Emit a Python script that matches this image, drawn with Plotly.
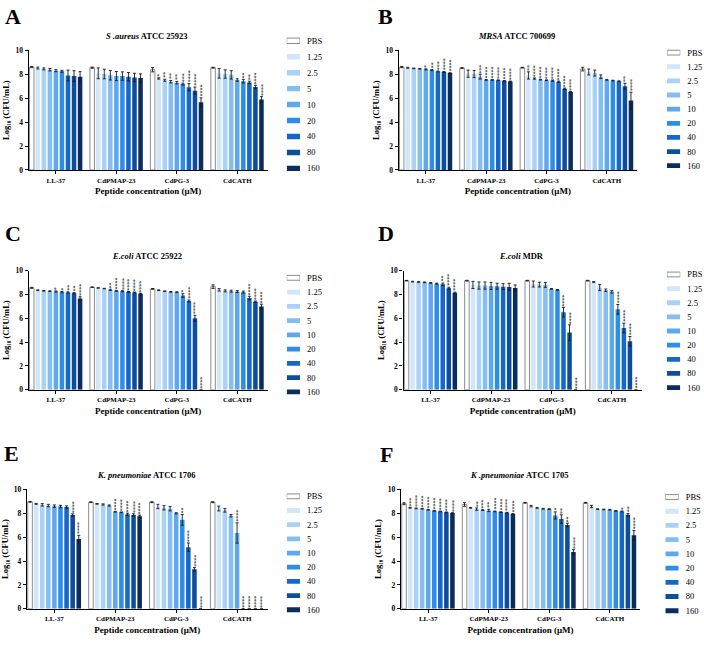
import plotly.graph_objects as go

W, H = 704, 645
SERIF = "Liberation Serif"

peptides = ["LL-37", "CdPMAP-23", "CdPG-3", "CdCATH"]
concentrations = ["PBS", "1.25", "2.5", "5", "10", "20", "40", "80", "160"]
bar_colors = ["#ffffff", "#cfe6fb", "#aad2f6", "#86bef2", "#5fa8ee",
              "#2f8dea", "#1568c9", "#0d4d9e", "#0a2d5c"]

# rows = peptide (LL-37, CdPMAP-23, CdPG-3, CdCATH); columns = concentration
A_mean = [[8.60, 8.52, 8.45, 8.38, 8.30, 8.25, 7.90, 7.85, 7.80],
          [8.55, 8.08, 8.02, 7.92, 7.85, 7.85, 7.80, 7.73, 7.68],
          [8.38, 7.65, 7.50, 7.38, 7.30, 7.18, 6.92, 6.63, 5.65],
          [8.55, 8.08, 8.02, 7.95, 7.52, 7.42, 7.32, 6.93, 5.88]]
A_err = [[0.05, 0.08, 0.08, 0.10, 0.08, 0.08, 0.45, 0.45, 0.42],
         [0.05, 0.45, 0.40, 0.40, 0.38, 0.35, 0.35, 0.35, 0.35],
         [0.18, 0.05, 0.08, 0.10, 0.10, 0.08, 0.30, 0.30, 0.38],
         [0.04, 0.40, 0.35, 0.35, 0.10, 0.15, 0.10, 0.15, 0.25]]
A_stars = [["", "", "", "", "", "", "", "", ""],
           ["", "", "", "", "", "", "", "", ""],
           ["", "*", "**", "**", "**", "***", "****", "****", "****"],
           ["", "", "", "", "", "**", "**", "****", "****"]]

B_mean = [[8.60, 8.54, 8.49, 8.46, 8.41, 8.35, 8.24, 8.19, 8.10],
          [8.52, 8.05, 8.02, 7.80, 7.53, 7.53, 7.50, 7.45, 7.40],
          [8.55, 7.90, 7.64, 7.55, 7.50, 7.47, 7.38, 6.79, 6.51],
          [8.43, 8.19, 8.10, 7.80, 7.53, 7.47, 7.42, 7.00, 5.80]]
B_err = [[0.05, 0.04, 0.03, 0.03, 0.04, 0.04, 0.03, 0.04, 0.03],
         [0.03, 0.30, 0.30, 0.20, 0.03, 0.03, 0.03, 0.03, 0.03],
         [0.03, 0.30, 0.05, 0.03, 0.03, 0.05, 0.05, 0.05, 0.05],
         [0.15, 0.25, 0.25, 0.15, 0.03, 0.03, 0.03, 0.25, 0.70]]
B_stars = [["", "", "", "", "*", "**", "***", "****", "****"],
           ["", "", "", "***", "****", "****", "****", "****", "****"],
           ["", "**", "****", "****", "****", "****", "****", "****", "****"],
           ["", "", "", "", "", "", "", "**", "****"]]

C_mean = [[8.55, 8.35, 8.30, 8.27, 8.24, 8.19, 8.16, 8.10, 7.65],
          [8.60, 8.54, 8.49, 8.38, 8.30, 8.27, 8.21, 8.16, 8.05],
          [8.46, 8.35, 8.27, 8.21, 8.19, 7.91, 7.45, 6.00, 0.0],
          [8.65, 8.38, 8.30, 8.27, 8.24, 8.19, 7.69, 7.39, 6.98]]
C_err = [[0.04, 0.03, 0.03, 0.03, 0.05, 0.05, 0.05, 0.05, 0.15],
         [0.02, 0.02, 0.02, 0.05, 0.04, 0.04, 0.04, 0.04, 0.04],
         [0.03, 0.03, 0.02, 0.03, 0.03, 0.15, 0.08, 0.25, 0.0],
         [0.15, 0.10, 0.08, 0.08, 0.08, 0.08, 0.15, 0.05, 0.20]]
C_stars = [["", "", "", "", "*", "*", "**", "**", "****"],
           ["", "", "", "**", "****", "****", "****", "****", "****"],
           ["", "", "", "", "", "*", "****", "****", "****"],
           ["", "", "", "", "", "", "****", "****", "****"]]

D_mean = [[9.15, 9.07, 9.04, 9.01, 8.96, 8.90, 8.85, 8.52, 8.13],
          [9.15, 8.79, 8.74, 8.74, 8.71, 8.68, 8.65, 8.63, 8.54],
          [9.15, 8.87, 8.82, 8.79, 8.46, 8.38, 6.51, 4.80, 0.0],
          [9.15, 9.04, 8.57, 8.35, 8.22, 6.75, 5.19, 4.07, 0.0]]
D_err = [[0.02, 0.03, 0.03, 0.03, 0.03, 0.04, 0.10, 0.08, 0.06],
         [0.03, 0.30, 0.30, 0.30, 0.30, 0.25, 0.25, 0.30, 0.25],
         [0.03, 0.25, 0.20, 0.20, 0.03, 0.03, 0.40, 0.65, 0.0],
         [0.03, 0.03, 0.25, 0.10, 0.10, 0.40, 0.40, 0.40, 0.0]]
D_stars = [["", "", "", "", "", "", "**", "****", "****"],
           ["", "", "", "", "", "", "", "", ""],
           ["", "", "", "", "", "", "****", "****", "****"],
           ["", "", "", "", "", "****", "****", "****", "****"]]

E_mean = [[8.96, 8.79, 8.71, 8.65, 8.60, 8.57, 8.52, 7.85, 5.85],
          [8.93, 8.79, 8.74, 8.65, 8.13, 8.08, 7.91, 7.86, 7.75],
          [8.93, 8.57, 8.46, 8.38, 8.00, 7.45, 5.16, 3.30, 0.0],
          [8.93, 8.40, 8.25, 7.80, 6.35, 0.0, 0.0, 0.0, 0.0]]
E_err = [[0.03, 0.04, 0.10, 0.10, 0.10, 0.10, 0.10, 0.10, 0.30],
         [0.03, 0.03, 0.05, 0.05, 0.03, 0.03, 0.10, 0.10, 0.10],
         [0.04, 0.18, 0.18, 0.18, 0.05, 0.45, 0.35, 0.15, 0.0],
         [0.04, 0.20, 0.15, 0.10, 0.85, 0.0, 0.0, 0.0, 0.0]]
E_stars = [["", "", "", "", "", "", "", "****", "****"],
           ["", "", "", "", "****", "****", "****", "****", "****"],
           ["", "", "", "", "", "**", "****", "****", "****"],
           ["", "", "", "", "****", "****", "****", "****", "****"]]

F_mean = [[8.80, 8.46, 8.41, 8.38, 8.30, 8.21, 8.16, 8.08, 8.02],
          [8.74, 8.46, 8.35, 8.27, 8.24, 8.16, 8.10, 8.05, 7.94],
          [8.88, 8.60, 8.45, 8.38, 8.35, 7.82, 7.52, 7.02, 4.75],
          [8.88, 8.57, 8.35, 8.32, 8.30, 8.21, 8.16, 7.88, 6.15]]
F_err = [[0.08, 0.03, 0.03, 0.03, 0.03, 0.03, 0.03, 0.03, 0.03],
         [0.15, 0.03, 0.10, 0.03, 0.10, 0.03, 0.03, 0.03, 0.03],
         [0.03, 0.06, 0.03, 0.03, 0.03, 0.30, 0.35, 0.15, 0.20],
         [0.03, 0.10, 0.03, 0.03, 0.03, 0.03, 0.03, 0.10, 0.40]]
F_stars = [["", "***", "****", "****", "****", "****", "****", "****", "****"],
           ["", "", "**", "***", "**", "****", "****", "****", "****"],
           ["", "", "", "", "", "*", "**", "**", "****"],
           ["", "", "", "", "", "", "*", "**", "****"]]

titles = ["<i>S .aureus</i> ATCC 25923", "<i>MRSA</i> ATCC 700699",
          "<i>E.coli</i> ATCC 25922", "<i>E.coli</i> MDR",
          "<i>K. pneumoniae</i> ATCC 1706", "<i>K .pneumoniae</i> ATCC 1705"]
letters = ["A", "B", "C", "D", "E", "F"]
y_title = "Log\u2081\u2080 (CFU/mL)"
x_title = "Peptide concentration (μM)"

# layout geometry in pixels: plot left/right/top/bottom, key swatch left/right,
# key first/last item centre, panel letter position, title y
geometry = [
    dict(x0=28.7, x1=267.5, yt=47.0, yb=168.3, kx0=286.7, kx1=300.0, ky0=37.3, ky1=166.7,
         let=(12.5, 12.5), ty=32.3),
    dict(x0=398.7, x1=637.0, yt=47.0, yb=168.3, kx0=667.0, kx1=680.3, ky0=49.3, ky1=164.0,
         let=(385, 12.5), ty=32.3),
    dict(x0=28.7, x1=267.5, yt=270.3, yb=391.3, kx0=286.7, kx1=300.0, ky0=277.7, ky1=393.3,
         let=(13.3, 232.5), ty=256),
    dict(x0=403.5, x1=642.0, yt=270.3, yb=391.3, kx0=667.0, kx1=680.3, ky0=274.3, ky1=389.0,
         let=(386, 232.5), ty=256),
    dict(x0=27.0, x1=267.5, yt=492.3, yb=613.3, kx0=286.7, kx1=300.0, ky0=499.3, ky1=614.3,
         let=(11.7, 455.8), ty=477.3),
    dict(x0=401.0, x1=640.0, yt=492.3, yb=613.3, kx0=665.3, kx1=678.7, ky0=500.0, ky1=615.3,
         let=(386.7, 456.7), ty=477.3),
]
panel_data = [(A_mean, A_err, A_stars), (B_mean, B_err, B_stars), (C_mean, C_err, C_stars),
              (D_mean, D_err, D_stars), (E_mean, E_err, E_stars), (F_mean, F_err, F_stars)]

n_pan = len(panel_data)
fig = go.Figure()
annotations = []
layout = dict(
    width=W, height=H, autosize=False, showlegend=False,
    margin=dict(l=0, r=0, t=0, b=0),
    paper_bgcolor="white", plot_bgcolor="white",
    barmode="group", bargap=0.1, bargroupgap=0.25,
    font=dict(family=SERIF, color="black"),
)

for i, ((mean, err, stars), g) in enumerate(zip(panel_data, geometry), start=1):
    sfx = "" if i == 1 else str(i)
    xa, ya = "x" + sfx, "y" + sfx
    for k, conc in enumerate(concentrations):
        fig.add_trace(go.Bar(
            x=peptides,
            y=[mean[j][k] for j in range(len(peptides))],
            error_y=dict(type="data", array=[err[j][k] for j in range(len(peptides))],
                         color="#1a1a1a", thickness=0.9, width=1.5),
            marker=dict(color=bar_colors[k],
                        line=dict(color="#8c8c8c" if k == 0 else bar_colors[k],
                                  width=1 if k == 0 else 0)),
            name=conc, xaxis=xa, yaxis=ya,
        ))
        for j in range(len(peptides)):
            s = stars[j][k]
            if s:
                annotations.append(dict(
                    x=j - 0.4 + 0.1 * k, y=mean[j][k] + err[j][k], xref=xa, yref=ya,
                    text=s, textangle=-90, showarrow=False, xanchor="center", yanchor="bottom",
                    borderpad=0, xshift=0.8,
                    font=dict(family=SERIF, size=6, color="black")))
    layout["xaxis" + sfx] = dict(
        domain=[g["x0"] / W, g["x1"] / W], anchor=ya, type="category",
        range=[-0.45, 3.5], showline=True, linecolor="black", linewidth=1.3,
        ticks="outside", ticklen=3, tickwidth=1, tickcolor="black",
        showgrid=False, zeroline=False,
        tickfont=dict(family=SERIF, size=7, color="black", weight="bold"),
        title=dict(text=x_title, standoff=4,
                   font=dict(family=SERIF, size=9, color="black", weight="bold")),
    )
    layout["yaxis" + sfx] = dict(
        domain=[1 - g["yb"] / H, 1 - g["yt"] / H], anchor=xa,
        range=[0, 10], tickvals=[0, 2, 4, 6, 8, 10], showline=True, linecolor="black",
        linewidth=1.3, ticks="outside", ticklen=3, tickwidth=1, tickcolor="black",
        showgrid=False, zeroline=False,
        tickfont=dict(family=SERIF, size=7.5, color="black", weight="bold"),
        title=dict(text=y_title, standoff=4,
                   font=dict(family=SERIF, size=8.5, color="black", weight="bold")),
    )

    # colour key for the panel: one swatch per concentration, labelled by the axis ticks
    ki = i + n_pan
    kxa, kya = "x" + str(ki), "y" + str(ki)
    step = (g["ky1"] - g["ky0"]) / (len(concentrations) - 1)
    fig.add_trace(go.Bar(
        y=concentrations, x=[1] * len(concentrations), orientation="h", width=0.34,
        marker=dict(color=bar_colors,
                    line=dict(color=["#8c8c8c"] + bar_colors[1:],
                              width=[1] + [0] * (len(concentrations) - 1))),
        xaxis=kxa, yaxis=kya, hoverinfo="y", name="key",
    ))
    layout["xaxis" + str(ki)] = dict(
        domain=[g["kx0"] / W, g["kx1"] / W], anchor=kya, range=[0, 1],
        visible=False, fixedrange=True)
    layout["yaxis" + str(ki)] = dict(
        domain=[1 - (g["ky1"] + step / 2) / H, 1 - (g["ky0"] - step / 2) / H],
        anchor=kxa, type="category", range=[len(concentrations) - 0.5, -0.5],
        side="right", showline=False, showgrid=False, zeroline=False, ticks="",
        ticklabelstandoff=6, fixedrange=True,
        tickfont=dict(family=SERIF, size=8.5, color="black"))

    annotations.append(dict(
        x=((g["x0"] + g["x1"]) / 2 - 1) / W, y=1 - g["ty"] / H, xref="paper", yref="paper",
        text=titles[i - 1], showarrow=False, xanchor="center", yanchor="middle",
        font=dict(family=SERIF, size=8.5, color="black", weight="bold")))
    annotations.append(dict(
        x=g["let"][0] / W, y=1 - g["let"][1] / H, xref="paper", yref="paper",
        text=letters[i - 1], showarrow=False, xanchor="center", yanchor="middle",
        font=dict(family=SERIF, size=22, color="black", weight="bold")))

layout["annotations"] = annotations
fig.update_layout(**layout)
fig.write_html("out.html")
